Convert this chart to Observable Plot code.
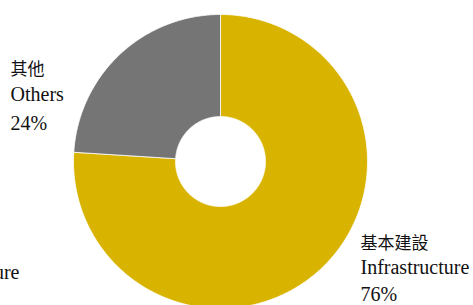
<!DOCTYPE html>
<html>
<head>
<meta charset="utf-8">
<script src="https://cdn.jsdelivr.net/npm/d3@7"></script>
<script src="https://cdn.jsdelivr.net/npm/@observablehq/plot@0.6"></script>
<style>
  html, body { margin: 0; padding: 0; background: #fff; }
  #chart svg { display: block; }
</style>
</head>
<body>
<div id="chart"></div>
<script>
// Data
const namesZh = ["基本建設", "其他"];
const namesEn = ["Infrastructure", "Others"];
const values = [76, 24];
const colors = ["#d8b400", "#757575"];

const W = 473, H = 305;
const cx = 220, cy = 161, R = 147, r0 = 45;

// Annular-sector outlines derived from the data through d3.pie (unit = outer radius)
const pie = d3.pie().sort(null).value(d => d)(values);
const inner = r0 / R;
const poly = [];
pie.forEach((p, i) => {
  const n = Math.max(8, Math.ceil((p.endAngle - p.startAngle) / 0.01));
  const pts = [];
  for (let k = 0; k <= n; k++) {
    const a = p.startAngle + (p.endAngle - p.startAngle) * k / n;
    pts.push({x: Math.sin(a), y: Math.cos(a)});
  }
  for (let k = n; k >= 0; k--) {
    const a = p.startAngle + (p.endAngle - p.startAngle) * k / n;
    pts.push({x: inner * Math.sin(a), y: inner * Math.cos(a)});
  }
  pts.push(pts[0]);
  pts.forEach(q => poly.push({...q, cat: namesEn[i]}));
});

const fontEn = "Liberation Serif";
const fontZh = "Noto Sans CJK TC";

const label = (txt, x, base, size, fam, anchor = "start") =>
  Plot.text([txt], {
    text: d => d, frameAnchor: "top-left", dx: x, dy: base,
    lineAnchor: "bottom", textAnchor: anchor,
    fontSize: size, fill: "#111", fontFamily: fam
  });

const chart = Plot.plot({
  width: W, height: H,
  margin: 0,
  x: {domain: [-cx / R, (W - cx) / R], axis: null},
  y: {domain: [-(H - cy) / R, cy / R], axis: null},
  color: {domain: namesEn, range: colors},
  marks: [
    Plot.line(poly, {x: "x", y: "y", z: "cat", fill: "cat", stroke: "#fff", strokeWidth: 0.8, curve: "linear"}),
    // left label (Others)
    label(namesZh[1], 10, 74, 17, fontZh),
    label(namesEn[1], 10, 100, 20, fontEn),
    label(values[1] + "%", 10, 129, 20, fontEn),
    // right label (Infrastructure)
    label(namesZh[0], 360, 248, 17, fontZh),
    label(namesEn[0], 360, 273, 20, fontEn),
    label(values[0] + "%", 360, 300, 20, fontEn),
    // clipped label fragment at the lower left edge
    label(namesEn[0], 19, 278, 20, fontEn, "end")
  ]
});
document.getElementById("chart").appendChild(chart);
</script>
</body>
</html>
